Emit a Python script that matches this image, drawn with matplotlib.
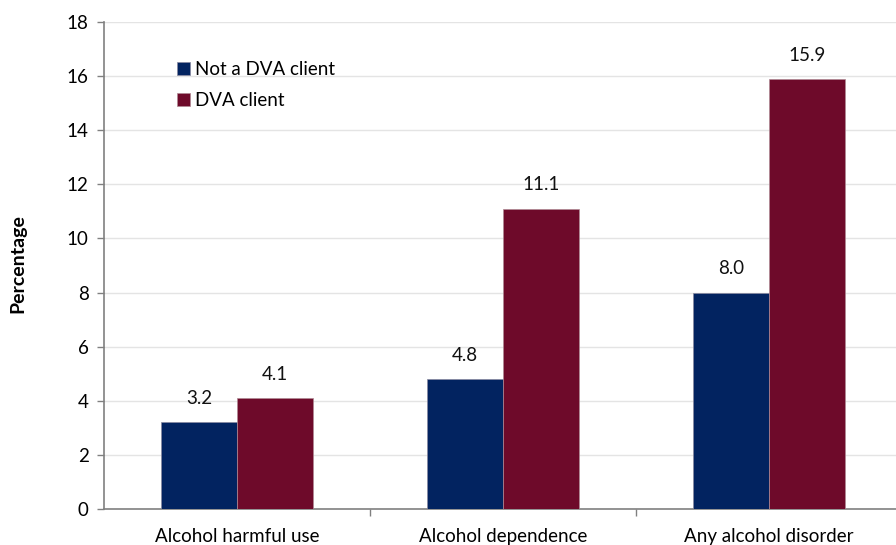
import numpy as np
import matplotlib.pyplot as plt

categories = ["Alcohol harmful use", "Alcohol dependence", "Any alcohol disorder"]
not_dva = [3.2, 4.8, 8.0]
dva = [4.1, 11.1, 15.9]
series_names = ["Not a DVA client", "DVA client"]

plt.rcParams['font.family'] = ['Lato', 'DejaVu Sans']

fig = plt.figure(figsize=(8.96, 5.45), dpi=100)
ax = fig.add_axes([104 / 896, 1 - 509 / 545, 798 / 896, 487 / 545])

x = np.arange(len(categories))
w = 0.286
navy = "#022360"
maroon = "#6E0A2A"
fs = 13.5
b1 = ax.bar(x - w / 2, not_dva, w, color=navy, edgecolor="#8a8aa0", linewidth=0.5, label=series_names[0], zorder=3)
b2 = ax.bar(x + w / 2, dva, w, color=maroon, edgecolor="#b08a95", linewidth=0.5, label=series_names[1], zorder=3)

for bars, vals in ((b1, not_dva), (b2, dva)):
    for bar, v in zip(bars, vals):
        ax.annotate(f"{v:.1f}", (bar.get_x() + bar.get_width() / 2, v),
                    xytext=(0, 11), textcoords="offset points",
                    ha="center", va="bottom", fontsize=fs, color="#111111")

ax.set_xlim(-0.5, 2.5)
ax.set_ylim(0, 18)
ax.set_yticks(range(0, 19, 2))
ax.set_xticks(x)
ax.set_xticklabels(categories, fontsize=fs)
ax.set_xticks([0.5, 1.5, 2.5], minor=True)
ax.tick_params(axis="x", which="major", length=0, pad=14)
ax.tick_params(axis="x", which="minor", length=5, color="#808080", width=1)
ax.tick_params(axis="y", length=5, color="#808080", width=1, labelsize=fs, pad=6)

ax.grid(axis="y", color="#e4e4e4", linewidth=1, zorder=0)
ax.set_axisbelow(True)
for s in ("top", "right"):
    ax.spines[s].set_visible(False)
for s in ("left", "bottom"):
    ax.spines[s].set_color("#808080")
    ax.spines[s].set_linewidth(1.2)

fig.text(18 / 896, 1 - 264 / 545, "Percentage", rotation=90, ha="center", va="center",
         fontsize=14, fontweight="bold")

ax.legend(loc="upper left", bbox_to_anchor=(0.07, 0.955), frameon=False,
          fontsize=fs, handlelength=0.7, handleheight=0.7, handletextpad=0.3,
          labelspacing=0.75)

fig.savefig("out.png", dpi=100)
